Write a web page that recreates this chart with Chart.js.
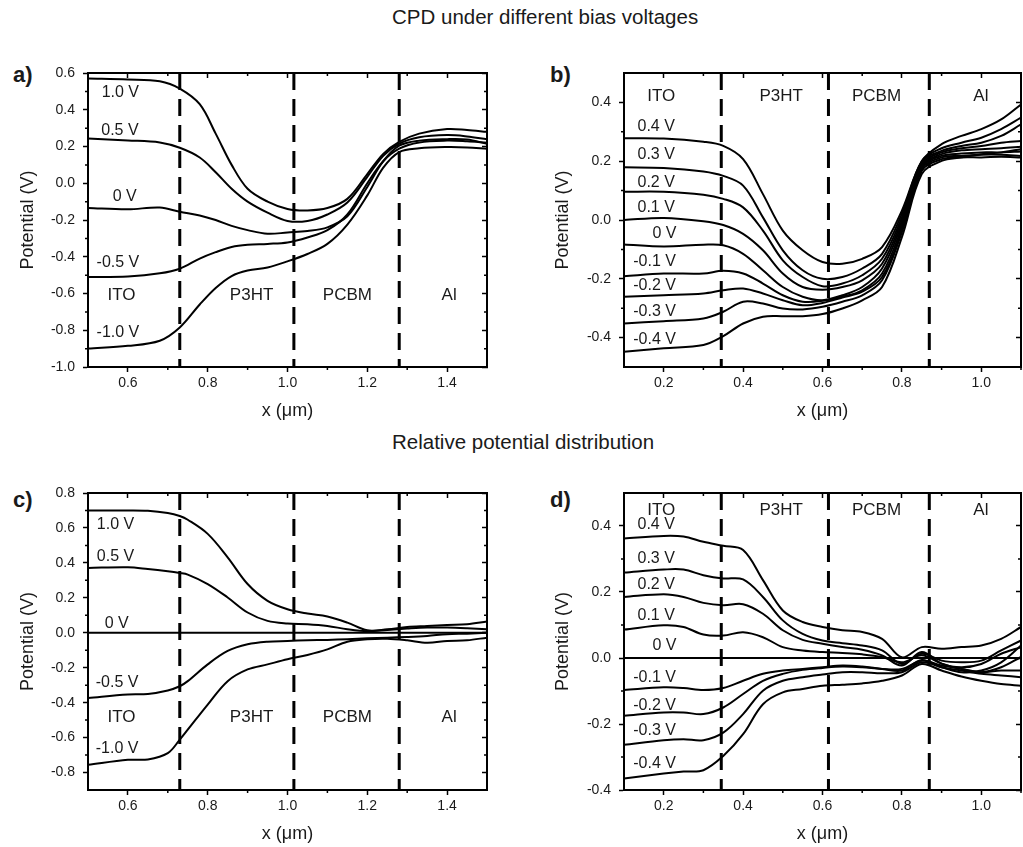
<!DOCTYPE html>
<html lang="en">
<head>
<meta charset="UTF-8">
<title>CPD under different bias voltages</title>
<script src="https://cdn.jsdelivr.net/npm/chart.js"></script>
<style>
  body { margin: 0; width: 1023px; height: 847px; overflow: hidden; background: #fff; position: relative;
         font-family: "Liberation Sans", Arial, sans-serif; color: #1a1a1a; }
  .title { position: absolute; font-size: 20.5px; line-height: 20.5px; white-space: nowrap; }
  .tag { position: absolute; font-size: 22px; line-height: 22px; font-weight: bold; }
  canvas { position: absolute; }
</style>
</head>
<body>
<div class="title" style="left:392px;top:7px">CPD under different bias voltages</div>
<div class="title" style="left:392px;top:432px">Relative potential distribution</div>
<div class="tag" style="left:13px;top:64px">a)</div>
<div class="tag" style="left:550px;top:64px">b)</div>
<div class="tag" style="left:13px;top:489px">c)</div>
<div class="tag" style="left:550px;top:489px">d)</div>

<canvas id="ca" width="505" height="362" style="left:0;top:60px"></canvas>
<canvas id="cb" width="488" height="362" style="left:535px;top:60px"></canvas>
<canvas id="cc" width="505" height="367" style="left:0;top:480px"></canvas>
<canvas id="cd" width="488" height="367" style="left:535px;top:480px"></canvas>

<script>
// ---- panel a: CPD, -1.0 .. 1.0 V ----
const aX = [0.5, 0.6, 0.68, 0.73, 0.78, 0.82, 0.86, 0.9, 0.95, 1.0, 1.05, 1.1, 1.15, 1.2, 1.24, 1.28, 1.33, 1.4, 1.45, 1.5];
const aP10 = [0.57, 0.565, 0.555, 0.515, 0.43, 0.27, 0.10, -0.03, -0.10, -0.14, -0.148, -0.135, -0.085, 0.05, 0.16, 0.225, 0.27, 0.295, 0.29, 0.28];
const aP05 = [0.243, 0.233, 0.222, 0.193, 0.14, 0.06, -0.03, -0.10, -0.16, -0.205, -0.205, -0.17, -0.105, 0.035, 0.15, 0.215, 0.25, 0.262, 0.255, 0.24];
const aZero = [-0.135, -0.142, -0.132, -0.155, -0.175, -0.2, -0.232, -0.255, -0.275, -0.268, -0.26, -0.24, -0.18, -0.02, 0.12, 0.205, 0.232, 0.24, 0.238, 0.215];
const aM05 = [-0.51, -0.507, -0.49, -0.465, -0.41, -0.375, -0.347, -0.335, -0.33, -0.322, -0.295, -0.255, -0.17, 0.0, 0.12, 0.188, 0.222, 0.232, 0.228, 0.22];
const aM10 = [-0.90, -0.885, -0.857, -0.785, -0.66, -0.57, -0.505, -0.475, -0.458, -0.425, -0.385, -0.33, -0.225, -0.066, 0.085, 0.17, 0.19, 0.197, 0.195, 0.188];
const aXTicks = [0.6, 0.8, 1.0, 1.2, 1.4];
const aYTicks = [-1.0, -0.8, -0.6, -0.4, -0.2, 0.0, 0.2, 0.4, 0.6];

// ---- panel b: CPD, -0.4 .. 0.4 V ----
const bX = [0.1, 0.2, 0.3, 0.35, 0.4, 0.45, 0.5, 0.55, 0.6, 0.65, 0.7, 0.75, 0.8, 0.85, 0.9, 0.95, 1.0, 1.05, 1.1];
const bP04 = [0.278, 0.277, 0.266, 0.252, 0.207, 0.088, -0.036, -0.103, -0.143, -0.149, -0.132, -0.092, 0.032, 0.20, 0.258, 0.286, 0.309, 0.342, 0.393];
const bP03 = [0.179, 0.177, 0.165, 0.15, 0.117, 0.009, -0.103, -0.171, -0.2, -0.194, -0.165, -0.115, 0.021, 0.2, 0.244, 0.263, 0.28, 0.309, 0.348];
const bP02 = [0.096, 0.096, 0.086, 0.072, 0.043, -0.036, -0.137, -0.194, -0.225, -0.216, -0.188, -0.132, 0.009, 0.196, 0.235, 0.252, 0.263, 0.286, 0.325];
const bP01 = [0.0, 0.007, -0.004, -0.017, -0.047, -0.103, -0.182, -0.228, -0.237, -0.228, -0.205, -0.149, -0.002, 0.19, 0.23, 0.244, 0.252, 0.263, 0.269];
const bZero = [-0.083, -0.09, -0.084, -0.086, -0.115, -0.171, -0.228, -0.261, -0.273, -0.256, -0.228, -0.165, -0.013, 0.184, 0.224, 0.237, 0.241, 0.244, 0.249];
const bM01 = [-0.191, -0.182, -0.182, -0.173, -0.182, -0.216, -0.256, -0.278, -0.275, -0.261, -0.239, -0.182, -0.024, 0.179, 0.218, 0.226, 0.23, 0.23, 0.233];
const bM02 = [-0.261, -0.256, -0.25, -0.239, -0.233, -0.25, -0.273, -0.29, -0.282, -0.264, -0.244, -0.194, -0.036, 0.173, 0.213, 0.218, 0.222, 0.222, 0.218];
const bM03 = [-0.352, -0.344, -0.335, -0.312, -0.278, -0.284, -0.301, -0.304, -0.295, -0.278, -0.256, -0.205, -0.041, 0.167, 0.207, 0.213, 0.213, 0.215, 0.213];
const bM04 = [-0.448, -0.436, -0.425, -0.395, -0.352, -0.329, -0.327, -0.327, -0.32, -0.301, -0.273, -0.228, -0.058, 0.156, 0.201, 0.213, 0.224, 0.23, 0.241];
const bXTicks = [0.2, 0.4, 0.6, 0.8, 1.0];
const bYTicks = [-0.4, -0.2, 0.0, 0.2, 0.4];

// ---- panel c: relative potential, -1.0 .. 1.0 V ----
const cX = [0.5, 0.6, 0.65, 0.7, 0.73, 0.75, 0.8, 0.85, 0.9, 0.95, 1.0, 1.05, 1.1, 1.15, 1.2, 1.25, 1.3, 1.35, 1.4, 1.45, 1.5];
const cP10 = [0.70, 0.70, 0.698, 0.685, 0.668, 0.647, 0.566, 0.432, 0.279, 0.183, 0.135, 0.11, 0.093, 0.058, 0.014, 0.02, 0.033, 0.039, 0.045, 0.049, 0.064];
const cP05 = [0.371, 0.375, 0.365, 0.352, 0.342, 0.333, 0.279, 0.202, 0.116, 0.068, 0.053, 0.049, 0.039, 0.02, 0.009, 0.016, 0.024, 0.03, 0.03, 0.026, 0.02];
const cZero = [0, 0, 0, 0, 0, 0, 0, 0, 0, 0, 0, 0, 0, 0, 0, 0, 0, 0, 0, 0, 0];
const cM05 = [-0.373, -0.353, -0.35, -0.33, -0.306, -0.277, -0.181, -0.104, -0.066, -0.051, -0.047, -0.043, -0.041, -0.037, -0.032, -0.028, -0.024, -0.018, -0.008, -0.005, 0.0];
const cM10 = [-0.756, -0.727, -0.725, -0.689, -0.612, -0.555, -0.411, -0.277, -0.21, -0.181, -0.152, -0.127, -0.095, -0.051, -0.037, -0.034, -0.043, -0.057, -0.047, -0.043, -0.028];
const cYTicks = [-0.8, -0.6, -0.4, -0.2, 0.0, 0.2, 0.4, 0.6, 0.8];

// ---- panel d: relative potential, -0.4 .. 0.4 V ----
const dX = [0.1, 0.2, 0.25, 0.3, 0.35, 0.4, 0.45, 0.5, 0.55, 0.6, 0.65, 0.7, 0.75, 0.8, 0.85, 0.9, 0.95, 1.0, 1.05, 1.1];
const dP04 = [0.362, 0.37, 0.368, 0.352, 0.34, 0.327, 0.236, 0.144, 0.109, 0.094, 0.084, 0.079, 0.058, 0.002, 0.033, 0.028, 0.033, 0.038, 0.058, 0.094];
const dP03 = [0.259, 0.268, 0.268, 0.251, 0.241, 0.238, 0.185, 0.114, 0.073, 0.053, 0.045, 0.038, 0.023, -0.018, 0.013, -0.008, -0.013, -0.008, 0.023, 0.053];
const dP02 = [0.185, 0.193, 0.185, 0.167, 0.16, 0.163, 0.134, 0.084, 0.055, 0.043, 0.033, 0.025, 0.008, -0.023, 0.018, -0.017, -0.028, -0.018, 0.013, 0.033];
const dP01 = [0.086, 0.099, 0.094, 0.071, 0.068, 0.078, 0.063, 0.033, 0.023, 0.018, 0.015, 0.011, 0.003, -0.013, 0.008, -0.017, -0.033, -0.043, -0.038, -0.038];
const dZero = [0, 0, 0, 0, 0, 0, 0, 0, 0, 0, 0, 0, 0, 0, 0, 0, 0, 0, 0, 0];
const dM01 = [-0.097, -0.089, -0.091, -0.097, -0.091, -0.069, -0.048, -0.038, -0.033, -0.028, -0.023, -0.026, -0.033, -0.038, -0.006, -0.028, -0.038, -0.048, -0.053, -0.058];
const dM02 = [-0.175, -0.165, -0.165, -0.17, -0.15, -0.109, -0.069, -0.048, -0.036, -0.03, -0.026, -0.028, -0.033, -0.033, -0.008, -0.023, -0.033, -0.043, -0.028, 0.003];
const dM03 = [-0.263, -0.249, -0.246, -0.249, -0.226, -0.17, -0.099, -0.069, -0.058, -0.05, -0.043, -0.043, -0.046, -0.043, -0.013, -0.028, -0.043, -0.038, -0.013, 0.038];
const dM04 = [-0.365, -0.35, -0.344, -0.34, -0.297, -0.231, -0.14, -0.104, -0.094, -0.084, -0.081, -0.077, -0.069, -0.053, -0.018, -0.038, -0.056, -0.069, -0.079, -0.084];

// layer boundaries (x, um) and names
const leftBounds = [0.73, 1.016, 1.28];
const rightBounds = [0.345, 0.615, 0.869];
const layers = ['ITO', 'P3HT', 'PCBM', 'Al'];
const bigVolts = ['1.0 V', '0.5 V', '0 V', '-0.5 V', '-1.0 V'];
const smallVolts = ['0.4 V', '0.3 V', '0.2 V', '0.1 V', '0 V', '-0.1 V', '-0.2 V', '-0.3 V', '-0.4 V'];

const FONT = '"Liberation Sans", Arial, sans-serif';
const INK = '#1a1a1a';

// halfway (minor) tick values between the major ticks
function minorTicks(majors, min, max) {
  const step = majors[1] - majors[0];
  const out = [];
  for (let k = majors[0] - step / 2; k < max; k += step) {
    if (k > min) out.push(k);
  }
  return out;
}

// layer names, voltage labels and the short minor ticks
const deco = {
  id: 'deco',
  afterDraw(chart, args, o) {
    const ctx = chart.ctx;
    const x = chart.scales.x, y = chart.scales.y;
    ctx.save();
    ctx.fillStyle = INK;
    ctx.textAlign = 'center';
    ctx.textBaseline = 'middle';
    ctx.font = '16px ' + FONT;
    o.volts.forEach((t, i) => ctx.fillText(t, x.getPixelForValue(o.voltX[i]), y.getPixelForValue(o.voltY[i])));
    ctx.font = '17px ' + FONT;
    layers.forEach((t, i) => ctx.fillText(t, x.getPixelForValue(o.layerX[i]), y.getPixelForValue(o.layerY)));

    const L = x.left, R = x.right, T = y.top, B = y.bottom;
    ctx.strokeStyle = '#000';
    ctx.lineWidth = 1.5;
    ctx.beginPath();
    minorTicks(o.xMajors, x.min, x.max).forEach(v => {
      const px = x.getPixelForValue(v);
      ctx.moveTo(px, B); ctx.lineTo(px, B + 3);
      ctx.moveTo(px, T); ctx.lineTo(px, T + 3);
    });
    minorTicks(o.yMajors, y.min, y.max).forEach(v => {
      const py = y.getPixelForValue(v);
      ctx.moveTo(L, py); ctx.lineTo(L - 3, py);
      ctx.moveTo(R, py); ctx.lineTo(R - 3, py);
    });
    ctx.stroke();
    ctx.restore();
  }
};

function makePanel(p) {
  const curves = p.series.map(s => ({
    data: s.map((v, i) => ({ x: p.xs[i], y: v })),
    borderColor: '#000', borderWidth: 2, pointRadius: 0, tension: 0.35, fill: false
  }));
  const dashes = p.bounds.map(b => ({
    data: [{ x: b, y: p.yMax }, { x: b, y: p.yMin }],
    borderColor: '#000', borderWidth: 3, borderDash: [17, 9], pointRadius: 0, tension: 0
  }));
  const tickFont = { family: FONT, size: 14 };
  const titleFont = { family: FONT, size: 18 };
  const edge = { display: true, color: '#000', width: 2 };
  const outTicks = { display: true, drawOnChartArea: false, drawTicks: true, tickLength: 5, tickWidth: 1.5, tickColor: '#000' };
  const inTicks = { display: true, drawOnChartArea: false, drawTicks: true, tickLength: -5, tickWidth: 1.5, tickColor: '#000' };
  const noPadX = s => { s.paddingLeft = 0; s.paddingRight = 0; };
  const noPadY = s => { s.paddingTop = 0; s.paddingBottom = 0; };
  p.deco.xMajors = p.xTicks;
  p.deco.yMajors = p.yTicks;
  const canvas = document.getElementById(p.id);
  const chart = new Chart(canvas, {
    type: 'line',
    data: { datasets: dashes.concat(curves) },
    options: {
      responsive: false,
      animation: false,
      layout: { padding: { top: 13, right: p.padRight, bottom: p.padBottom, left: 0 }, autoPadding: false },
      plugins: { legend: { display: false }, tooltip: { enabled: false }, deco: p.deco },
      scales: {
        x: {
          type: 'linear', min: p.xMin, max: p.xMax,
          afterBuildTicks: s => { s.ticks = p.xTicks.map(v => ({ value: v })); },
          afterFit: s => { s.height = 55; noPadX(s); },
          grid: outTicks, border: edge,
          ticks: { padding: 3, color: INK, font: tickFont, maxRotation: 0, autoSkip: false, callback: v => v.toFixed(1) },
          title: { display: true, text: 'x (\u03bcm)', color: INK, font: titleFont, padding: { top: 0, bottom: 0 } }
        },
        x2: {
          type: 'linear', position: 'top', display: true, min: p.xMin, max: p.xMax,
          afterBuildTicks: s => { s.ticks = p.xTicks.map(v => ({ value: v })); },
          afterFit: s => { s.height = 0; noPadX(s); },
          grid: inTicks, border: edge, ticks: { display: false }
        },
        y: {
          min: p.yMin, max: p.yMax,
          afterBuildTicks: s => { s.ticks = p.yTicks.map(v => ({ value: v })); },
          afterFit: s => { s.width = p.yW; noPadY(s); },
          grid: outTicks, border: edge,
          ticks: { padding: 8, color: INK, font: tickFont, autoSkip: false, callback: v => v.toFixed(1) },
          title: { display: true, text: 'Potential (V)', color: INK, font: titleFont, padding: { top: 17.5, bottom: 0 } }
        },
        y2: {
          type: 'linear', position: 'right', display: true, min: p.yMin, max: p.yMax,
          afterBuildTicks: s => { s.ticks = p.yTicks.map(v => ({ value: v })); },
          afterFit: s => { s.width = 0; noPadY(s); },
          grid: inTicks, border: edge, ticks: { display: false }
        }
      }
    },
    plugins: [deco]
  });

  // nudge the layout padding so the plot box lands where the reference has it
  const wantTop = 13, wantBottom = canvas.height - p.padBottom - 55;
  const a = chart.chartArea;
  const dTop = a.top - wantTop, dBottom = a.bottom - wantBottom;
  if (Math.abs(dTop) > 0.2 || Math.abs(dBottom) > 0.2) {
    chart.options.layout.padding = { top: 13 - dTop, right: p.padRight, bottom: p.padBottom + dBottom, left: 0 };
    chart.update();
  }
}

makePanel({
  id: 'ca', xs: aX, series: [aP10, aP05, aZero, aM05, aM10], bounds: leftBounds,
  xMin: 0.5, xMax: 1.5, yMin: -1.0, yMax: 0.6, xTicks: aXTicks, yTicks: aYTicks,
  padRight: 18, padBottom: 0, yW: 88,
  deco: { volts: bigVolts, voltX: [0.581, 0.58, 0.592, 0.575, 0.575], voltY: [0.492, 0.286, -0.07, -0.433, -0.814],
          layerX: [0.584, 0.91, 1.15, 1.405], layerY: -0.61 }
});
makePanel({
  id: 'cb', xs: bX, series: [bP04, bP03, bP02, bP01, bZero, bM01, bM02, bM03, bM04], bounds: rightBounds,
  xMin: 0.1, xMax: 1.1, yMin: -0.5, yMax: 0.5, xTicks: bXTicks, yTicks: bYTicks,
  padRight: 2, padBottom: 0, yW: 89,
  deco: { volts: smallVolts, voltX: [0.181, 0.181, 0.181, 0.181, 0.202, 0.177, 0.177, 0.177, 0.177],
          voltY: [0.319, 0.223, 0.127, 0.042, -0.045, -0.142, -0.223, -0.313, -0.406],
          layerX: [0.194, 0.496, 0.736, 0.999], layerY: 0.42 }
});
makePanel({
  id: 'cc', xs: cX, series: [cP10, cP05, cZero, cM05, cM10], bounds: leftBounds,
  xMin: 0.5, xMax: 1.5, yMin: -0.9, yMax: 0.8, xTicks: aXTicks, yTicks: cYTicks,
  padRight: 18, padBottom: 2, yW: 88,
  deco: { volts: bigVolts, voltX: [0.569, 0.569, 0.572, 0.573, 0.573], voltY: [0.618, 0.436, 0.055, -0.288, -0.662],
          layerX: [0.584, 0.91, 1.15, 1.405], layerY: -0.486 }
});
makePanel({
  id: 'cd', xs: dX, series: [dP04, dP03, dP02, dP01, dZero, dM01, dM02, dM03, dM04], bounds: rightBounds,
  xMin: 0.1, xMax: 1.1, yMin: -0.4, yMax: 0.5, xTicks: bXTicks, yTicks: bYTicks,
  padRight: 2, padBottom: 2, yW: 89,
  deco: { volts: smallVolts, voltX: [0.181, 0.181, 0.181, 0.181, 0.202, 0.177, 0.177, 0.177, 0.177],
          voltY: [0.403, 0.302, 0.221, 0.13, 0.038, -0.058, -0.145, -0.22, -0.32],
          layerX: [0.194, 0.496, 0.736, 0.999], layerY: 0.449 }
});
</script>
</body>
</html>
